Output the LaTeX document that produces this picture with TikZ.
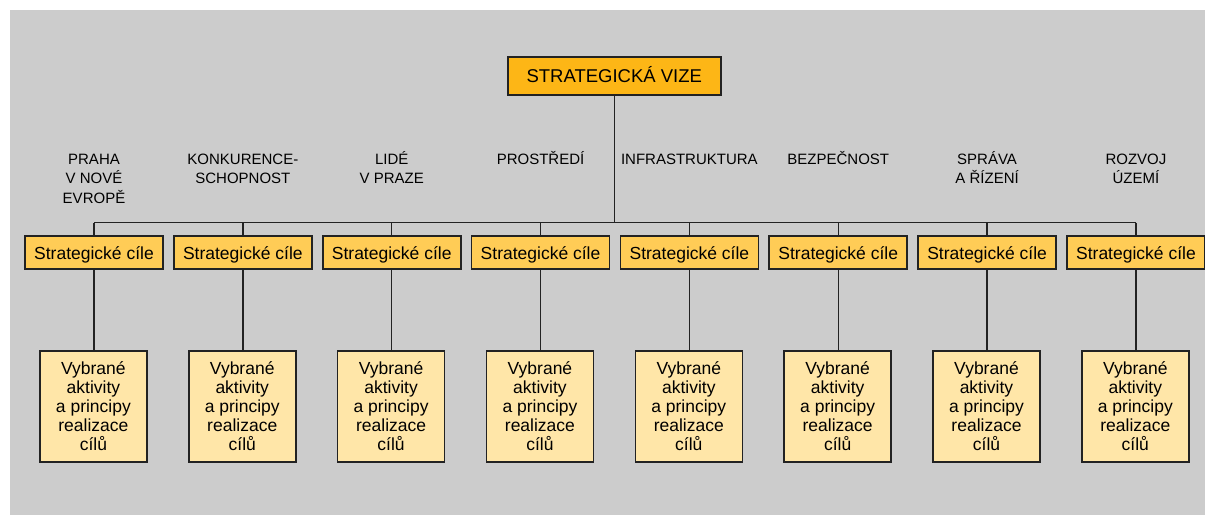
\documentclass[tikz,border=0pt]{standalone}
\usepackage{fontspec}
\setmainfont{Liberation Sans}
\definecolor{bgc}{RGB}{204,204,204}
\definecolor{topc}{RGB}{253,182,22}
\definecolor{midc}{RGB}{255,204,86}
\definecolor{lowc}{RGB}{255,230,168}
\definecolor{linec}{RGB}{34,34,34}
\tikzset{
  topbox/.style={draw=linec, line width=1.6pt, fill=topc, minimum width=213pt, minimum height=38pt, inner sep=0pt, text height=13.8pt, text depth=0pt, font=\fontsize{18.5}{20}\selectfont},
  midbox/.style={draw=linec, line width=1.6pt, fill=midc, minimum width=138pt, minimum height=33pt, inner sep=0pt, text height=13.6pt, text depth=0pt, font=\fontsize{17.5}{19}\selectfont},
  actbox/.style={draw=linec, line width=1.6pt, fill=lowc, minimum width=107pt, minimum height=111pt, inner sep=0pt, align=center, font=\fontsize{17.5}{19}\selectfont},
  catlabel/.style={anchor=north, inner sep=0pt, align=center, font=\fontsize{15}{19.5}\selectfont},
  conn/.style={draw=linec, line width=1.3pt}
}
\begin{document}
\begin{tikzpicture}[x=1pt,y=-1pt]
\useasboundingbox (0,0) rectangle (1205,515);
\fill[bgc] (10,10) rectangle (1205,515);
\node[topbox] (vize) at (614.3,75.8) {STRATEGICKÁ VIZE};
\coordinate (bus) at (614.3,222.7);
\foreach \i/\lab in {1/{PRAHA\\V NOVÉ\\EVROPĚ},2/{KONKURENCE-\\SCHOPNOST},3/{LIDÉ\\V PRAZE},4/{PROSTŘEDÍ},5/{INFRASTRUKTURA},6/{BEZPEČNOST},7/{SPRÁVA\\A ŘÍZENÍ},8/{ROZVOJ\\ÚZEMÍ}}{
  \pgfmathsetmacro{\xx}{94+148.85*(\i-1)}
  \node[catlabel] (l\i) at (\xx,149) {\rule{0pt}{15pt}\lab};
  \coordinate (b\i) at (\xx,222.7);
  \node[midbox] (c\i) at (\xx,252.2) {Strategické cíle};
  \node[actbox] (a\i) at (\xx-0.6,406.5) {Vybrané\\aktivity\\a principy\\realizace\\cílů};
}
\draw[conn] (vize.south) -- (bus);
\draw[conn] (b1) -- (b8);
\foreach \i in {1,...,8}{
  \draw[conn] (b\i) -- (c\i.north);
  \draw[conn] (c\i.south) -- (a\i.north -| c\i.south);
}
\end{tikzpicture}
\end{document}
